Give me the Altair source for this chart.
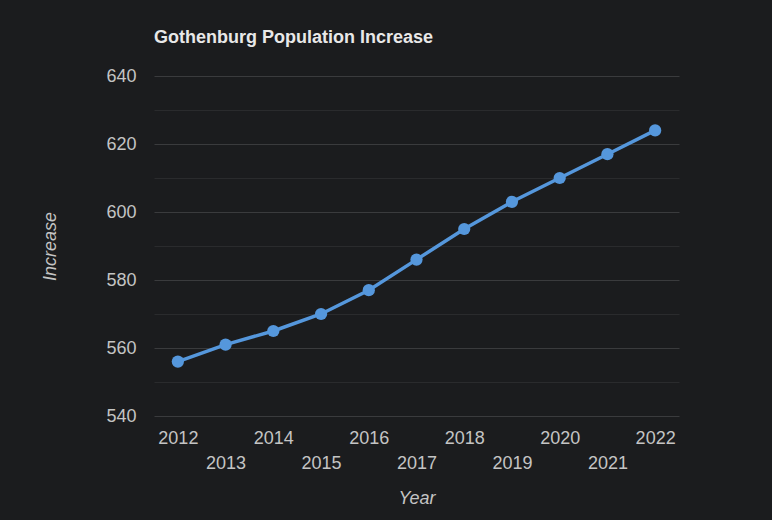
import altair as alt
import pandas as pd

years = [2012, 2013, 2014, 2015, 2016, 2017, 2018, 2019, 2020, 2021, 2022]
increase = [556, 561, 565, 570, 577, 586, 595, 603, 610, 617, 624]
y_ticks = [540, 550, 560, 570, 580, 590, 600, 610, 620, 630, 640]

df = pd.DataFrame({"Year": years, "Increase": increase})

FONT = "Liberation Sans, Arial"
LABEL_COLOR = "#c4c4c4"
LINE_COLOR = "#5597dc"

x = alt.X(
    "Year:Q",
    scale=alt.Scale(domain=[2011.5, 2022.5], nice=False, zero=False),
    axis=alt.Axis(
        values=years,
        format="d",
        labelExpr="datum.value % 2 == 0 ? datum.label : ['', datum.label]",
        labelOverlap=False,
        labelFlush=False,
        labelBaseline="top",
        labelLineHeight=25,
        labelPadding=13,
        labelFontSize=18,
        labelFont=FONT,
        labelColor=LABEL_COLOR,
        domain=False,
        ticks=False,
        tickSize=0,
        grid=False,
        title="Year",
        titleFont=FONT,
        titleFontSize=18,
        titleFontStyle="italic",
        titleFontWeight="normal",
        titleColor=LABEL_COLOR,
        titleX=262.5,
        titleY=87,
        titleAlign="center",
        titleBaseline="alphabetic",
    ),
)

y = alt.Y(
    "Increase:Q",
    scale=alt.Scale(domain=[540, 640], nice=False, zero=False),
    axis=alt.Axis(
        values=y_ticks,
        labelExpr="datum.value % 20 == 0 ? datum.label : ''",
        labelOverlap=False,
        labelPadding=18,
        labelFontSize=18,
        labelFont=FONT,
        labelColor=LABEL_COLOR,
        domain=False,
        ticks=False,
        tickSize=0,
        grid=True,
        gridColor={
            "condition": {"test": "datum.value % 20 == 0", "value": "#3a3b3d"},
            "value": "#2a2b2d",
        },
        gridWidth=1,
        title="Increase",
        titleFont=FONT,
        titleFontSize=18,
        titleFontStyle="italic",
        titleFontWeight="normal",
        titleColor=LABEL_COLOR,
        titleAngle=-90,
        titleX=-99,
        titleY=170,
        titleAlign="center",
        titleBaseline="alphabetic",
    ),
)

base = alt.Chart(df).encode(x=x, y=y)
line = base.mark_line(color=LINE_COLOR, strokeWidth=3.5)
points = base.mark_circle(color=LINE_COLOR, size=150, opacity=1)

chart = (
    alt.layer(line, points)
    .properties(
        width=525,
        height=340,
        title=alt.TitleParams(
            "Gothenburg Population Increase",
            anchor="start",
            frame="group",
            font=FONT,
            fontSize=18,
            fontWeight="bold",
            color="#e8e8e8",
            baseline="alphabetic",
            offset=6,
        ),
        background="#1b1c1e",
        padding={"left": 154, "top": 76, "right": 93, "bottom": 104},
        autosize=alt.AutoSizeParams(type="none"),
    )
    .configure_view(stroke=None)
)

chart.save("out.html", embed_options={"renderer": "svg", "actions": False})
